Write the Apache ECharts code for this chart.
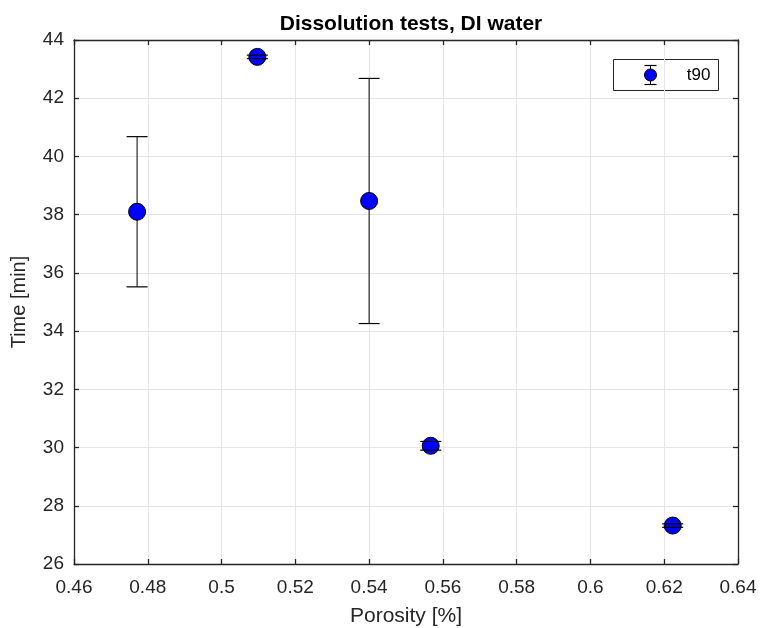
<!DOCTYPE html>
<html>
<head>
<meta charset="utf-8">
<script src="https://cdn.jsdelivr.net/npm/echarts@6/dist/echarts.min.js"></script>
<style>
  html, body { margin: 0; padding: 0; background: #fff; }
  #chart { width: 760px; height: 628px; }
</style>
</head>
<body>
<div id="chart"></div>
<script>
// Porosity vs. t90 dissolution time (mean with error bar half-width)
const porosity = [0.4771, 0.5097, 0.5400, 0.5567, 0.6223];
const t90 = [38.10, 43.42, 38.47, 30.06, 27.32];
const t90Err = [2.58, 0.06, 4.21, 0.15, 0.06];

const xTicks = { min: 0.46, max: 0.64, interval: 0.02 };
const yTicks = { min: 26, max: 44, interval: 2 };

const FONT = 'Liberation Sans, Arial, sans-serif';
const INK = '#262626';

const pts = porosity.map((x, i) => [x, t90[i]]);
const errData = porosity.map((x, i) => [x, t90[i] - t90Err[i], t90[i] + t90Err[i]]);

const CAP = 21;

function stemItem(params, api) {
  const lo = api.coord([api.value(0), api.value(1)]);
  const hi = api.coord([api.value(0), api.value(2)]);
  return {
    type: 'line',
    shape: { x1: lo[0], y1: lo[1], x2: hi[0], y2: hi[1] },
    style: { stroke: '#000', lineWidth: 1 }
  };
}
function capItem(params, api) {
  const lo = api.coord([api.value(0), api.value(1)]);
  const hi = api.coord([api.value(0), api.value(2)]);
  const h = CAP / 2;
  return {
    type: 'group',
    children: [
      { type: 'line', shape: { x1: lo[0] - h, y1: lo[1], x2: lo[0] + h, y2: lo[1] }, style: { stroke: '#000', lineWidth: 1.2 } },
      { type: 'line', shape: { x1: hi[0] - h, y1: hi[1], x2: hi[0] + h, y2: hi[1] }, style: { stroke: '#000', lineWidth: 1.2 } }
    ]
  };
}

const axisCommon = {
  axisLine: { show: true, onZero: false, lineStyle: { color: INK, width: 1.3 } },
  axisTick: { show: true, inside: true, length: 5, lineStyle: { color: INK, width: 1.3 } },
  splitLine: { show: false },
};

const chart = echarts.init(document.getElementById('chart'));
chart.setOption({
  animation: false,
  backgroundColor: '#fff',
  title: {
    text: 'Dissolution tests, DI water',
    left: 406, top: 9, textAlign: 'center',
    textStyle: { fontFamily: FONT, fontSize: 21, fontWeight: 'bold', color: '#000' }
  },
  grid: { left: 74, right: 22, top: 40, bottom: 64, containLabel: false, outerBoundsMode: 'none' },
  xAxis: [
    Object.assign({}, axisCommon, {
      type: 'value', position: 'bottom',
      min: xTicks.min, max: xTicks.max, interval: xTicks.interval,
      name: 'Porosity [%]', nameLocation: 'middle', nameGap: 42,
      nameTextStyle: { fontFamily: FONT, fontSize: 21, color: INK },
      axisLabel: { fontFamily: FONT, fontSize: 19, color: INK, margin: 14,
        formatter: v => String(parseFloat(v.toFixed(2))) },
      splitLine: { show: true, lineStyle: { color: '#e6e6e6', width: 1 } }
    }),
    Object.assign({}, axisCommon, {
      type: 'value', position: 'top',
      min: xTicks.min, max: xTicks.max, interval: xTicks.interval,
      axisLabel: { show: false }
    })
  ],
  yAxis: [
    Object.assign({}, axisCommon, {
      type: 'value', position: 'left',
      min: yTicks.min, max: yTicks.max, interval: yTicks.interval,
      name: 'Time [min]', nameLocation: 'middle', nameGap: 45,
      nameTextStyle: { fontFamily: FONT, fontSize: 20, color: INK },
      axisLabel: { fontFamily: FONT, fontSize: 19, color: INK, margin: 10 },
      splitLine: { show: true, lineStyle: { color: '#e6e6e6', width: 1 } }
    }),
    Object.assign({}, axisCommon, {
      type: 'value', position: 'right',
      min: yTicks.min, max: yTicks.max, interval: yTicks.interval,
      axisLabel: { show: false }
    })
  ],
  series: [
    {
      type: 'custom', name: 'stem', renderItem: stemItem, data: errData,
      encode: { x: 0, y: [1, 2] }, z: 2, silent: true
    },
    {
      type: 'scatter', name: 't90', data: pts, symbol: 'circle', symbolSize: 17,
      itemStyle: { color: '#0000ff', borderColor: '#000', borderWidth: 1, opacity: 1 },
      z: 3
    },
    {
      type: 'custom', name: 'caps', renderItem: capItem, data: errData,
      encode: { x: 0, y: [1, 2] }, z: 4, silent: true
    }
  ],
  graphic: [
    {
      type: 'group', right: 760 - 719, top: 59,
      children: [
        { type: 'rect', shape: { x: 0, y: 0, width: 105, height: 31 },
          style: { fill: '#fff', stroke: INK, lineWidth: 1 } },
        { type: 'line', shape: { x1: 37, y1: 6, x2: 37, y2: 25 }, style: { stroke: '#000', lineWidth: 1 } },
        { type: 'line', shape: { x1: 31, y1: 6, x2: 43, y2: 6 }, style: { stroke: '#000', lineWidth: 1.2 } },
        { type: 'line', shape: { x1: 31, y1: 25, x2: 43, y2: 25 }, style: { stroke: '#000', lineWidth: 1.2 } },
        { type: 'circle', shape: { cx: 37, cy: 15.5, r: 6 }, style: { fill: '#0000ff', stroke: '#000', lineWidth: 1 } },
        { type: 'text', x: 97, y: 16,
          style: { text: 't90', fontFamily: FONT, fontSize: 17, fill: '#000', align: 'right', verticalAlign: 'middle' } }
      ]
    }
  ]
});
</script>
</body>
</html>
